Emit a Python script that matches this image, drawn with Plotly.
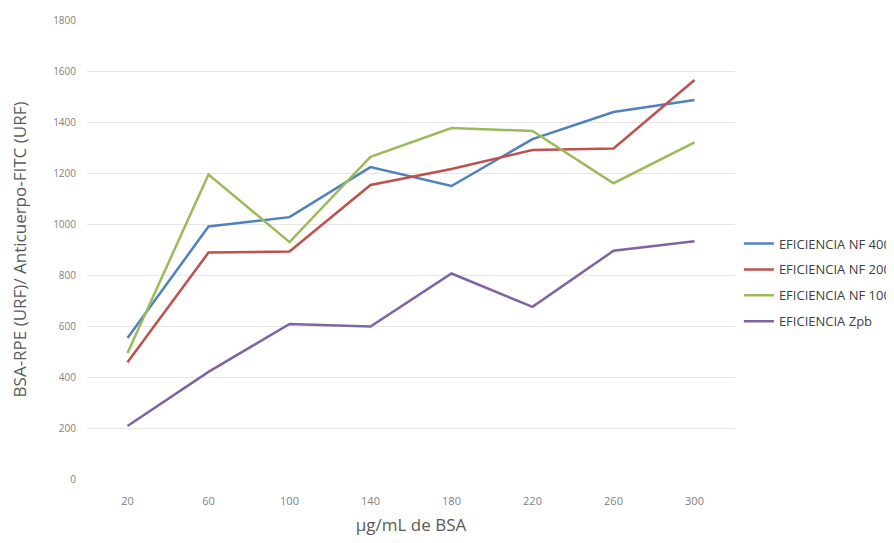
import plotly.graph_objects as go

categories = ["20", "60", "100", "140", "180", "220", "260", "300"]
nf400 = [553, 990, 1027, 1223, 1149, 1333, 1439, 1486]
nf200 = [458, 888, 892, 1153, 1216, 1290, 1296, 1565]
nf100 = [494, 1194, 929, 1263, 1376, 1365, 1160, 1320]
zpb = [208, 420, 608, 598, 806, 675, 895, 932]

names = ["EFICIENCIA NF 400", "EFICIENCIA NF 200", "EFICIENCIA NF 100", "EFICIENCIA Zpb"]
colors = ["#4F81BD", "#C0504D", "#9BBB59", "#8064A2"]
series = [nf400, nf200, nf100, zpb]

fig = go.Figure()
for i, (n, c, s) in enumerate(zip(names, colors, series)):
    fig.add_trace(go.Scatter(x=categories, y=s, mode="lines", name=n,
                             legendgroup="g%d" % i,
                             line=dict(color=c, width=2.5)))

fig.update_layout(
    width=894, height=543,
    paper_bgcolor="white", plot_bgcolor="white",
    margin=dict(l=79, r=167, t=12, b=72, autoexpand=False),
    font=dict(family="Open Sans, Liberation Sans, sans-serif", color="#595959"),
    showlegend=True,
    legend=dict(x=1.006, y=0.428, xanchor="left", yanchor="middle",
                font=dict(size=13, color="#404040"),
                bgcolor="rgba(0,0,0,0)", tracegroupgap=6, itemwidth=30),
)
fig.update_xaxes(type="category", range=[-0.5, 7.5], showgrid=False,
                 showline=False, zeroline=False, ticks="",
                 ticklabelstandoff=14,
                 tickfont=dict(size=11, color="#7f7f7f"),
                 title=dict(text="µg/mL de BSA", font=dict(size=17, color="#595959"), standoff=12))
fig.update_yaxes(range=[0, 1800], dtick=200, showgrid=True, gridcolor="#E6E6E6",
                 gridwidth=1, zeroline=False, showline=False, ticks="",
                 ticklabelstandoff=10,
                 tickfont=dict(size=10, color="#7f7f7f"),
                 title=dict(text="BSA-RPE (URF)/ Anticuerpo-FITC (URF)",
                            font=dict(size=17, color="#595959"), standoff=24))

fig.write_html("out.html")
